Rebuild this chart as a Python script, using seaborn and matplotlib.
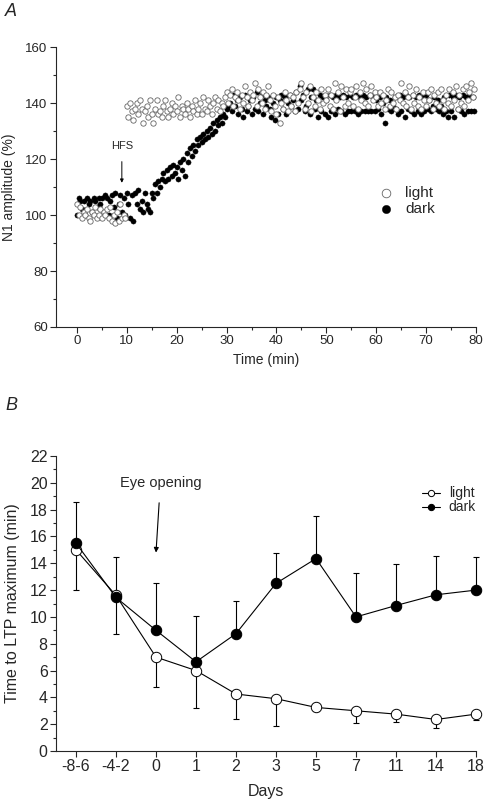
import numpy as np
import pandas as pd
import matplotlib
matplotlib.use("Agg")
import matplotlib.pyplot as plt
import seaborn as sns

sns.set_style("ticks")
plt.rcParams['font.family'] = ['Liberation Sans', 'DejaVu Sans']

# ---------------- Panel A data (one point every 20 s) ----------------
dark_amp = [
    100, 106, 105, 102, 105, 100, 106, 104, 105, 101, 106, 105, 103, 106, 104,
    106, 101, 107, 106, 100, 105, 107, 103, 108, 99, 104, 107, 101, 106, 100,
    108, 104, 99, 107, 98, 108, 104, 109, 102, 105, 101, 108, 104, 102, 101,
    108, 106, 111, 108, 112, 110, 113, 115, 112, 116, 113, 117, 114, 118, 115,
    117, 113, 119, 116, 120, 114, 122, 119, 124, 121, 125, 123, 127, 125, 128,
    126, 129, 127, 130, 128, 131, 129, 133, 130, 134, 132, 135, 133, 136, 135,
    138, 139, 140, 137, 143, 139, 141, 136, 142, 138, 135, 143, 137, 139, 141,
    136, 142, 138, 144, 137, 140, 143, 136, 141, 139, 142, 138, 135, 140, 134,
    142, 136, 141, 143, 138, 142, 136, 140, 143, 139, 141, 137, 144, 138, 146,
    141, 143, 137, 139, 145, 136, 142, 145, 138, 141, 135, 143, 137, 142, 136,
    141, 135, 143, 137, 142, 136, 143, 138, 142, 137, 143, 136, 142, 137, 143,
    137, 142, 137, 143, 136, 142, 137, 143, 137, 142, 137, 143, 137, 142, 137,
    141, 138, 142, 136, 140, 133, 142, 138, 141, 137, 139, 142, 138, 136, 143,
    137, 142, 135, 143, 138, 142, 137, 143, 136, 142, 137, 143, 136, 142, 137,
    143, 138, 141, 137, 139, 142, 138, 141, 137, 139, 136, 142, 137, 135, 143,
    137, 142, 135, 143, 138, 142, 137, 143, 136, 142, 137, 143, 137, 142, 137,
]
light_amp = [
    104, 100, 103, 99, 101, 100, 102, 99, 98, 101, 100, 103, 99, 100, 102,
    99, 101, 100, 102, 99, 103, 98, 100, 97, 101, 98, 104, 99, 100, 99,
    139, 135, 140, 137, 134, 138, 140, 136, 141, 138, 133, 137, 139, 135, 141,
    136, 133, 138, 141, 136, 137, 135, 139, 141, 137, 135, 138, 140, 136, 139,
    137, 142, 135, 139, 138, 136, 140, 138, 135, 139, 137, 141, 136, 138, 140,
    136, 142, 138, 137, 141, 139, 136, 140, 142, 138, 141, 137, 140, 139, 142,
    144, 140, 143, 145, 139, 142, 144, 141, 138, 143, 140, 146, 142, 139, 144,
    141, 143, 147, 139, 145, 142, 140, 144, 138, 143, 146, 141, 137, 143, 139,
    136, 142, 133, 140, 138, 144, 141, 137, 143, 139, 142, 137, 144, 140, 145,
    147, 142, 138, 144, 140, 146, 137, 142, 139, 144, 141, 138, 145, 140, 143,
    141, 145, 139, 143, 138, 147, 141, 144, 137, 146, 142, 139, 145, 140, 144,
    145, 139, 142, 146, 138, 144, 141, 147, 140, 145, 139, 143, 146, 141, 144,
    142, 139, 144, 140, 143, 138, 141, 145, 139, 144, 140, 142, 138, 143, 141,
    147, 140, 144, 139, 142, 146, 138, 143, 140, 145, 139, 142, 138, 144, 141,
    139, 144, 141, 145, 138, 143, 140, 144, 139, 145, 141, 138, 143, 140, 145,
    139, 144, 141, 146, 138, 143, 140, 145, 139, 146, 141, 144, 147, 142, 145,
]
time_min = np.arange(len(dark_amp)) / 3.0

# ---------------- Panel B data ----------------
days = ["-8-6", "-4-2", "0", "1", "2", "3", "5", "7", "11", "14", "18"]
light_mean = [15.0, 11.6, 7.0, 6.0, 4.25, 3.9, 3.25, 3.0, 2.75, 2.35, 2.75]
light_err = [3.0, 2.9, 2.2, 2.8, 1.9, 2.0, 0.3, 0.9, 0.55, 0.65, 0.45]
dark_mean = [15.5, 11.45, 9.0, 6.65, 8.75, 12.5, 14.35, 10.0, 10.85, 11.65, 12.0]
dark_err = [3.1, 3.05, 3.55, 3.4, 2.4, 2.25, 3.2, 3.25, 3.1, 2.9, 2.45]

dfA = pd.DataFrame({"t": np.concatenate([time_min, time_min]),
                    "amp": light_amp + dark_amp,
                    "cond": ["light"] * len(light_amp) + ["dark"] * len(dark_amp)})
x_idx = np.arange(len(days))
dfB = pd.DataFrame({"x": np.concatenate([x_idx, x_idx]),
                    "y": light_mean + dark_mean,
                    "cond": ["light"] * len(days) + ["dark"] * len(days)})

fig = plt.figure(figsize=(4.85, 8.0), dpi=100)

# ---------------- Panel A ----------------
axA = fig.add_axes([56 / 485, 1 - 327 / 800, 420 / 485, 280 / 800])
sns.scatterplot(data=dfA[dfA.cond == "light"], x="t", y="amp", ax=axA, s=15,
                marker="o", facecolor="white", edgecolor="#666666",
                linewidth=0.6, label="light", zorder=3, clip_on=False)
sns.scatterplot(data=dfA[dfA.cond == "dark"], x="t", y="amp", ax=axA, s=14,
                marker="o", color="black", edgecolor="black",
                linewidth=0.3, label="dark", zorder=2, clip_on=False)
axA.set_xlim(-4.2, 80)
axA.set_ylim(60, 160)
axA.set_xticks(np.arange(0, 81, 10))
axA.set_xticks(np.arange(0, 81, 5), minor=True)
axA.set_yticks(np.arange(60, 161, 20))
axA.set_yticks(np.arange(60, 161, 10), minor=True)
axA.tick_params(axis="both", which="major", direction="out", length=4,
                width=0.8, labelsize=9.5, pad=2)
axA.tick_params(axis="both", which="minor", direction="out", length=2.5, width=0.8)
axA.set_xlabel("Time (min)", fontsize=10, labelpad=4)
axA.set_ylabel("N1 amplitude (%)", fontsize=10, labelpad=7)
sns.despine(ax=axA)
for sp in axA.spines.values():
    sp.set_linewidth(0.8)
legA = axA.legend(loc="center left", bbox_to_anchor=(0.723, 0.45), frameon=False,
                  fontsize=11, handletextpad=0.3, labelspacing=0.15,
                  markerscale=1.6, borderpad=0.2)
axA.annotate("HFS", xy=(9, 111.5), xytext=(9, 124.5), ha="center", va="center",
             fontsize=8,
             arrowprops=dict(arrowstyle="-|>", color="black", lw=0.7,
                             mutation_scale=5, shrinkA=5, shrinkB=0))
fig.text(5 / 485, 1 - 12 / 800, "A", fontsize=13, style="italic", va="center")

# ---------------- Panel B ----------------
axB = fig.add_axes([56 / 485, 1 - 751 / 800, 420 / 485, 295 / 800])
for art in [axB.errorbar(x_idx, dark_mean, yerr=[np.zeros(len(days)), dark_err],
                         fmt="none", ecolor="black", elinewidth=0.8, capsize=2.5,
                         capthick=0.8, zorder=1),
            axB.errorbar(x_idx, light_mean, yerr=[light_err, np.zeros(len(days))],
                         fmt="none", ecolor="black", elinewidth=0.8, capsize=2.5,
                         capthick=0.8, zorder=1)]:
    for child in art.get_children():
        child.set_clip_on(False)
sns.lineplot(data=dfB[dfB.cond == "light"], x="x", y="y", ax=axB, color="black",
             lw=0.8, marker="o", markersize=7.5, markerfacecolor="white",
             markeredgecolor="black", markeredgewidth=0.7, label="light",
             zorder=3, clip_on=False)
sns.lineplot(data=dfB[dfB.cond == "dark"], x="x", y="y", ax=axB, color="black",
             lw=0.8, marker="o", markersize=7.5, markerfacecolor="black",
             markeredgecolor="black", label="dark", zorder=4, clip_on=False)
axB.set_xlim(-0.5, 10)
axB.set_ylim(0, 22)
axB.set_xticks(x_idx)
axB.set_xticklabels(days)
axB.set_yticks(np.arange(0, 23, 2))
axB.set_yticks(np.arange(0, 23, 1), minor=True)
axB.tick_params(axis="both", which="major", direction="out", length=4,
                width=0.8, labelsize=11.5, pad=2)
axB.tick_params(axis="y", which="minor", direction="out", length=2.5, width=0.8)
axB.set_xlabel("Days", fontsize=11.5, labelpad=7)
axB.set_ylabel("Time to LTP maximum (min)", fontsize=11.5, labelpad=7)
sns.despine(ax=axB)
for sp in axB.spines.values():
    sp.set_linewidth(0.8)
legB = axB.legend(loc="upper right", bbox_to_anchor=(1.02, 0.925), frameon=False,
                  fontsize=10, handlelength=1.3, handletextpad=0.6,
                  labelspacing=0.0, markerscale=0.6, borderpad=0.1)
axB.annotate("Eye opening", xy=(2, 14.8), xytext=(2.11, 20.0), ha="center",
             va="center", fontsize=10.5,
             arrowprops=dict(arrowstyle="-|>", color="black", lw=0.8,
                             mutation_scale=7, shrinkA=7, shrinkB=0))
fig.text(5 / 485, 1 - 405 / 800, "B", fontsize=13, style="italic", va="center")

fig.savefig("out.png", dpi=100)
